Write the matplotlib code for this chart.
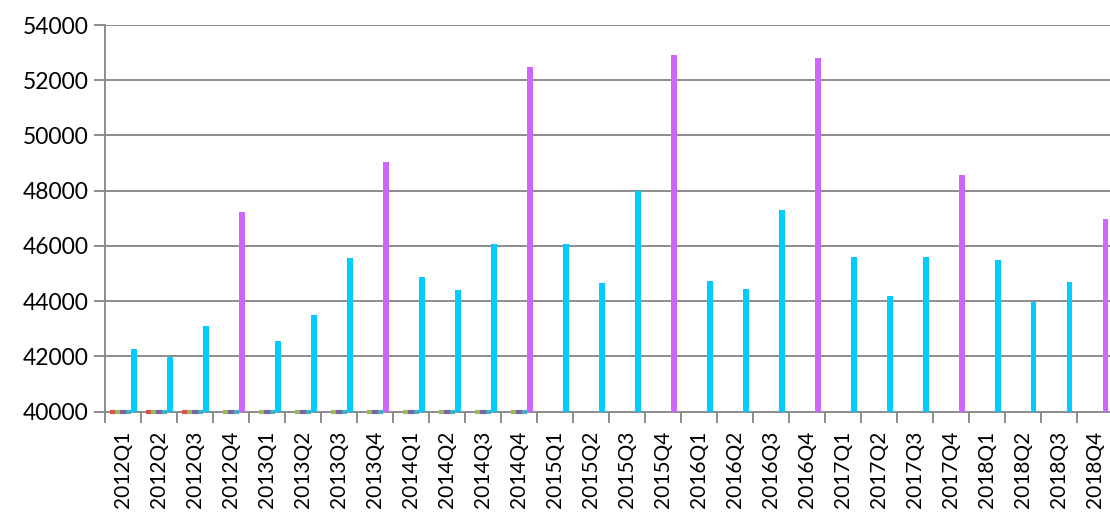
import matplotlib
matplotlib.use('Agg')
import matplotlib.pyplot as plt
import numpy as np

plt.rcParams['font.family'] = ['Lato', 'DejaVu Sans']

# Datos del gráfico
quarters = [f'{y}Q{q}' for y in range(2012, 2019) for q in range(1, 5)]
values = [42270, 41980, 43090, 47230,
          42560, 43500, 45560, 49040,
          44880, 44400, 46080, 52480,
          46080, 44660, 47990, 52910,
          44720, 44440, 47300, 52800,
          45600, 44200, 45590, 48570,
          45480, 43980, 44690, 46980]
# series pequeñas que quedan bajo el mínimo del eje (solo se ven como trazos en la base)
stub_red = quarters[:3]
stub_green = quarters[:12]
stub_purple = quarters[:12]
stub_cyan = quarters[:12]

y_min, y_max, y_step = 40000, 54000, 2000

fig = plt.figure(figsize=(11.1, 5.18), dpi=100)
ax = fig.add_axes([105 / 1110, (518 - 411.5) / 518, 1008 / 1110, 386.5 / 518])

x = np.arange(len(quarters))
w = 0.15
colors = ['#CC66FF' if q.endswith('Q4') else '#00CCFF' for q in quarters]
ax.bar(x + 0.3, values, width=w, color=colors, zorder=3)

# trazos en la línea base
stubs = [(stub_red, '#D9534F', 0), (stub_green, '#9BBB59', 1),
         (stub_purple, '#8064A2', 2), (stub_cyan, '#4BACC6', 3)]
for cats, col, k in stubs:
    xs = np.array([quarters.index(c) for c in cats])
    off = -0.375 + w * (k + 0.5)
    ax.hlines([y_min] * len(xs), xs + off - w / 2, xs + off + w / 2,
              colors=col, lw=3, zorder=5, clip_on=False)

ax.set_xlim(-0.5, len(quarters) - 0.5)
ax.set_ylim(y_min, y_max)
ax.set_yticks(np.arange(y_min, y_max + 1, y_step))
ax.yaxis.grid(True, color='#8C8C8C', lw=1.4, zorder=0)

ax.set_xticks(x)
ax.set_xticklabels(quarters, rotation=90, fontsize=15)
ax.set_xticks(np.arange(-0.5, len(quarters)), minor=True)
ax.tick_params(axis='x', which='major', length=0, pad=14)
ax.tick_params(axis='x', which='minor', length=8, width=1.4, color='#8C8C8C')
ax.tick_params(axis='y', length=8, width=1.4, color='#8C8C8C', labelsize=16.5, pad=4)

for s in ['top', 'right']:
    ax.spines[s].set_visible(False)
for s in ['left', 'bottom']:
    ax.spines[s].set_color('#8C8C8C')
    ax.spines[s].set_linewidth(1.4)

fig.savefig('out.png', dpi=100)
